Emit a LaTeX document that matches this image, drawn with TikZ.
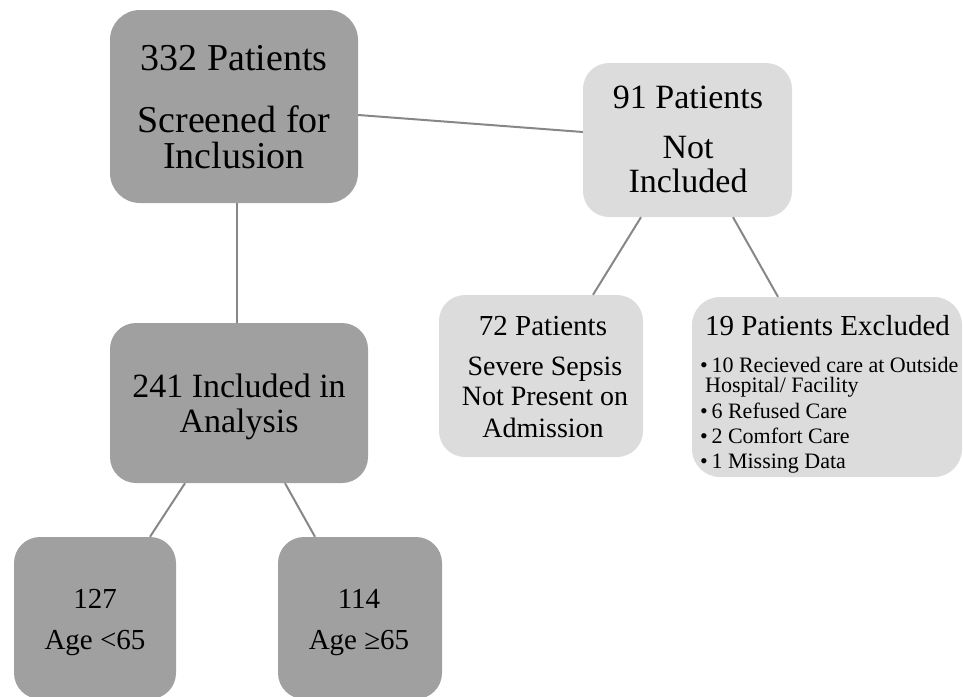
\documentclass[tikz,border=0pt]{standalone}
\usepackage{fontspec}
\setmainfont{Liberation Serif}
\definecolor{darkfill}{RGB}{160,160,160}
\definecolor{lightfill}{RGB}{220,220,220}
\definecolor{conncol}{RGB}{135,135,135}
\begin{document}
\begin{tikzpicture}[x=1pt,y=-1pt,
  box/.style={draw=none, rounded corners=26pt, inner sep=0pt, anchor=center},
  darkbox/.style={box, fill=darkfill},
  lightbox/.style={box, fill=lightfill},
  txt/.style={anchor=base, inner sep=0pt, text=black},
  txtl/.style={anchor=base west, inner sep=0pt, text=black},
  conn/.style={draw=conncol, line width=2pt}]

\useasboundingbox (0,0) rectangle (963,696);
\clip (0,0) rectangle (963,696);

% boxes
\node[darkbox, minimum width=248pt, minimum height=193pt, rounded corners=30pt] (top) at (234,106.5) {};
\node[lightbox, minimum width=209pt, minimum height=154pt] (notinc) at (687.5,140) {};
\node[darkbox, minimum width=258pt, minimum height=160pt] (incl) at (239,403) {};
\node[lightbox, minimum width=204pt, minimum height=162pt] (sepsis) at (541,376) {};
\node[lightbox, minimum width=270pt, minimum height=180pt, rounded corners=28pt] (excl) at (827,387) {};
\node[darkbox, minimum width=162pt, minimum height=162pt] (young) at (95,618) {};
\node[darkbox, minimum width=164pt, minimum height=162pt] (old) at (360,618) {};

% connectors
\draw[conn] ([yshift=-8.5pt]top.east) -- ([yshift=8pt]notinc.west);
\draw[conn] ([xshift=3pt]top.south) -- ([xshift=-2pt]incl.north);
\draw[conn] ([xshift=-46.5pt]notinc.south) -- ([xshift=52pt]sepsis.north);
\draw[conn] ([xshift=45.5pt]notinc.south) -- ([xshift=-49pt]excl.north);
\draw[conn] ([xshift=-54pt]incl.south) -- ([xshift=55pt]young.north);
\draw[conn] ([xshift=46pt]incl.south) -- ([xshift=-45pt]old.north);

% texts: top box
\node[txt, font=\fontsize{38}{38}\selectfont] (t1a) at (234,70) {332 Patients};
\node[txt, font=\fontsize{38}{38}\selectfont] (t1b) at (234,132) {Screened for};
\node[txt, font=\fontsize{38}{38}\selectfont] (t1c) at (234,168) {Inclusion};

% not included
\node[txt, font=\fontsize{34}{34}\selectfont] (t2a) at (688,108) {91 Patients};
\node[txt, font=\fontsize{34}{34}\selectfont] (t2b) at (688,158) {Not};
\node[txt, font=\fontsize{34}{34}\selectfont] (t2c) at (688,192) {Included};

% included
\node[txt, font=\fontsize{34}{34}\selectfont] (t3a) at (239,397) {241 Included in};
\node[txt, font=\fontsize{34}{34}\selectfont] (t3b) at (239,432) {Analysis};

% sepsis
\node[txt, font=\fontsize{29}{29}\selectfont] (t4a) at (543,335) {72 Patients};
\node[txt, font=\fontsize{28}{28}\selectfont] (t4b) at (545,375) {Severe Sepsis};
\node[txt, font=\fontsize{28}{28}\selectfont] (t4c) at (545,405) {Not Present on};
\node[txt, font=\fontsize{28}{28}\selectfont] (t4d) at (543,437) {Admission};

% excluded
\node[txt, font=\fontsize{29}{29}\selectfont] (t5a) at (827.5,335) {19 Patients Excluded};
\node[txtl, font=\fontsize{22}{22}\selectfont] (t5b) at (700,372) {\textbullet\,10 Recieved care at Outside};
\node[txtl, font=\fontsize{22}{22}\selectfont] (t5c) at (705,392) {Hospital/ Facility};
\node[txtl, font=\fontsize{22}{22}\selectfont] (t5d) at (700,418) {\textbullet\,6 Refused Care};
\node[txtl, font=\fontsize{22}{22}\selectfont] (t5e) at (700,443) {\textbullet\,2 Comfort Care};
\node[txtl, font=\fontsize{22}{22}\selectfont] (t5f) at (700,468) {\textbullet\,1 Missing Data};

% age boxes
\node[txt, font=\fontsize{29}{29}\selectfont] (t6a) at (95,608) {127};
\node[txt, font=\fontsize{29}{29}\selectfont] (t6b) at (95,649) {Age <65};
\node[txt, font=\fontsize{29}{29}\selectfont] (t7a) at (359,608) {114};
\node[txt, font=\fontsize{29}{29}\selectfont] (t7b) at (359,649) {Age ≥65};
\end{tikzpicture}
\end{document}
